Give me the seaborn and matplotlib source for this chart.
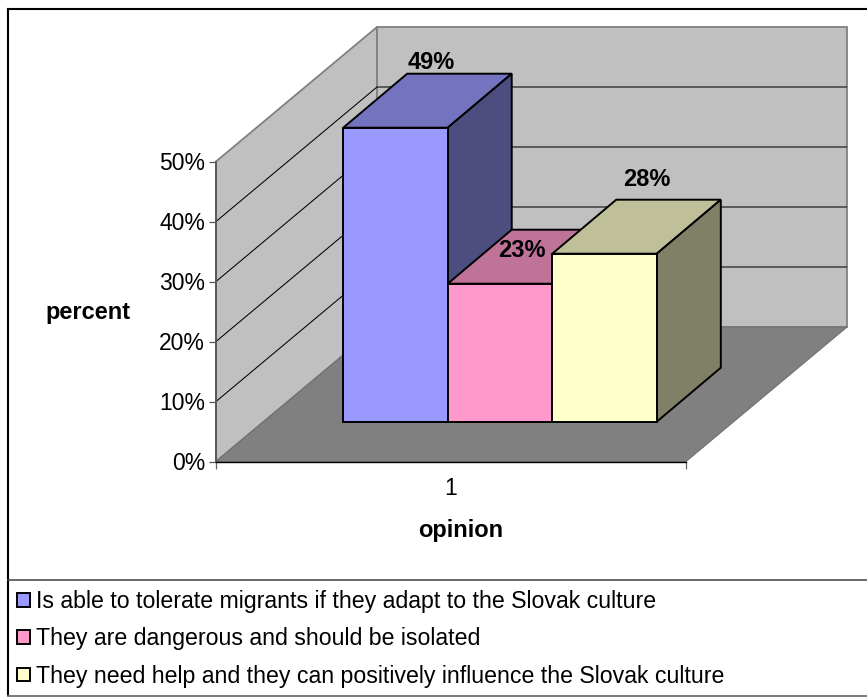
import matplotlib as mpl
mpl.use('Agg')

import matplotlib.pyplot as plt
import pandas as pd
import seaborn as sns
from matplotlib.lines import Line2D
from matplotlib.patches import Polygon

categories = ['1']
opinions = [
    'Is able to tolerate migrants if they adapt to the Slovak culture',
    'They are dangerous and should be isolated',
    'They need help and they can positively influence the Slovak culture',
]
percent_values = [49, 23, 28]
percent_ticks = [0, 10, 20, 30, 40, 50]
front_colors = ['#9999FF', '#FF99CC', '#FFFFCC']
top_colors = ['#7373BF', '#BF7399', '#BFBF99']
side_colors = ['#4D4D80', '#804D66', '#808066']

# label offsets from the top left corner of each bar, in pixels
label_offsets = [(88, 65), (74, 33), (95, 74)]

FIG_W, FIG_H = 867, 697
PX_PER_PERCENT = 6.0


def axes_box(left, top, right, bottom):
    """Turn pixel edges measured from the top left into a figure rectangle."""
    return [left / FIG_W, 1 - bottom / FIG_H, (right - left) / FIG_W, (bottom - top) / FIG_H]


def fx(px):
    return px / FIG_W


def fy(py):
    return 1 - py / FIG_H


def frame_line(x0, y0, x1, y1, color, width):
    fig.add_artist(Line2D([fx(x0), fx(x1)], [fy(y0), fy(y1)], color=color, linewidth=width,
                          solid_capstyle='projecting'))


sns.set_theme(style='white')
plt.rcParams['font.family'] = ['Liberation Sans', 'DejaVu Sans']

df = pd.DataFrame({
    'category': categories * len(opinions),
    'opinion': opinions,
    'percent': percent_values,
})

fig = plt.figure(figsize=(FIG_W / 100, FIG_H / 100), dpi=100)

# Chart border: the source has no line on the right hand side
frame_line(8, 9, 867, 9, 'black', 1.5)
frame_line(8, 9, 8, 695, 'black', 1.5)
frame_line(8, 695.5, 867, 695.5, '#707070', 1.3)
frame_line(8, 579.5, 867, 579.5, '#404040', 1.1)

# Walls, floor and axis labels
depth_x = 161 / 470
depth_y = 134.5 / PX_PER_PERCENT
wall_top = max(percent_ticks)

ax = fig.add_axes(axes_box(216, 27, 847, 461.5))
ax.set_xlim(-0.5, -0.5 + 631 / 470)
ax.set_ylim(0, wall_top + depth_y)
ax.patch.set_visible(False)

ax.fill([-0.5, -0.5 + depth_x, -0.5 + depth_x, -0.5],
        [0, depth_y, wall_top + depth_y, wall_top],
        facecolor='#C0C0C0', edgecolor='#808080', linewidth=1.3, clip_on=False)
ax.fill([-0.5 + depth_x, 0.5 + depth_x, 0.5 + depth_x, -0.5 + depth_x],
        [depth_y, depth_y, wall_top + depth_y, wall_top + depth_y],
        facecolor='#C0C0C0', edgecolor='#808080', linewidth=1.3, clip_on=False)
ax.fill([-0.5, 0.5, 0.5 + depth_x, -0.5 + depth_x],
        [0, 0, depth_y, depth_y],
        facecolor='#808080', edgecolor='#707070', linewidth=0.8, clip_on=False)

for tick in percent_ticks[1:-1]:
    ax.plot([-0.5, -0.5 + depth_x, 0.5 + depth_x], [tick, tick + depth_y, tick + depth_y],
            color='black', linewidth=0.75)

sns.despine(ax=ax, top=True, right=True)
ax.spines['left'].set_bounds(0, wall_top)
ax.spines['left'].set_color('#555555')
ax.spines['left'].set_linewidth(1.3)
ax.spines['bottom'].set_bounds(-0.5, 0.5)
ax.spines['bottom'].set_color('black')
ax.spines['bottom'].set_linewidth(1.0)

ax.set_yticks(percent_ticks, [f'{t}%' for t in percent_ticks])
ax.set_xticks([-0.5, 0.5], ['', ''])
ax.set_xticks([0], categories, minor=True)
ax.tick_params(axis='y', length=5, width=0.9, color='#555555', pad=3, left=True, labelsize=16.5, labelcolor='black')
ax.tick_params(axis='x', which='major', length=5, width=0.9, color='#666666', bottom=True)
ax.tick_params(axis='x', which='minor', length=0, pad=11.5, labelsize=16.5, labelcolor='black')

ax.set_xlabel('opinion', fontweight='bold', fontsize=17, color='black')
ax.xaxis.set_label_coords(fx(460.5), fy(530), transform=fig.transFigure)
ax.xaxis.label.set_verticalalignment('center')
ax.set_ylabel('percent', fontweight='bold', fontsize=17, rotation=0, color='black')
ax.yaxis.set_label_coords(fx(88), fy(312), transform=fig.transFigure)
ax.yaxis.label.set_horizontalalignment('center')
ax.yaxis.label.set_verticalalignment('center')

# The bars stand on the floor, so they get an axes of their own with the same scale
bar_center, bar_base = 500.0, 421.7
bar_ax = fig.add_axes(axes_box(bar_center - 196, bar_base - PX_PER_PERCENT * wall_top,
                               bar_center + 196, bar_base))
bar_ax.patch.set_visible(False)

sns.barplot(data=df, x='category', y='percent', hue='opinion', hue_order=opinions,
            palette=front_colors, saturation=1, width=0.8, gap=0, edgecolor='black', linewidth=1.4,
            legend=True, ax=bar_ax)
bar_ax.set_xlim(-0.5, 0.5)
bar_ax.set_ylim(0, wall_top)

handles, labels = bar_ax.get_legend_handles_labels()
bar_ax.get_legend().remove()

bar_depth_x = 64 / 392
bar_depth_y = 54 / PX_PER_PERCENT

# Painted left to right so each bar hides what is behind it
for i, bar in enumerate(bar_ax.patches[:len(percent_values)]):
    x0, x1 = bar.get_x(), bar.get_x() + bar.get_width()
    h = bar.get_height()
    bar.set_zorder(3 + 2 * i)
    bar.set_clip_on(False)
    top = Polygon([(x0, h), (x1, h), (x1 + bar_depth_x, h + bar_depth_y), (x0 + bar_depth_x, h + bar_depth_y)],
                  facecolor=top_colors[i], edgecolor='black', linewidth=1.4, zorder=2 + 2 * i, clip_on=False)
    side = Polygon([(x1, 0), (x1 + bar_depth_x, bar_depth_y), (x1 + bar_depth_x, h + bar_depth_y), (x1, h)],
                   facecolor=side_colors[i], edgecolor='black', linewidth=1.4, zorder=2 + 2 * i, clip_on=False)
    bar_ax.add_patch(top)
    bar_ax.add_patch(side)
    bar_ax.annotate(f'{percent_values[i]}%', xy=(x0, h), xytext=label_offsets[i], textcoords='offset pixels',
                    ha='center', va='center', fontweight='bold', fontsize=17, color='black',
                    zorder=20, annotation_clip=False)

bar_ax.axis('off')

for handle in handles:
    handle.set_linewidth(1.4)

fig.legend(handles, labels, loc='upper left', bbox_to_anchor=(fx(13.5), fy(586.5)), frameon=False,
           fontsize=16.7, handlelength=0.58, handleheight=0.52, handletextpad=0.26,
           labelspacing=0.62, borderpad=0.15, borderaxespad=0, labelcolor='black')

fig.savefig('out.png', dpi=100)
